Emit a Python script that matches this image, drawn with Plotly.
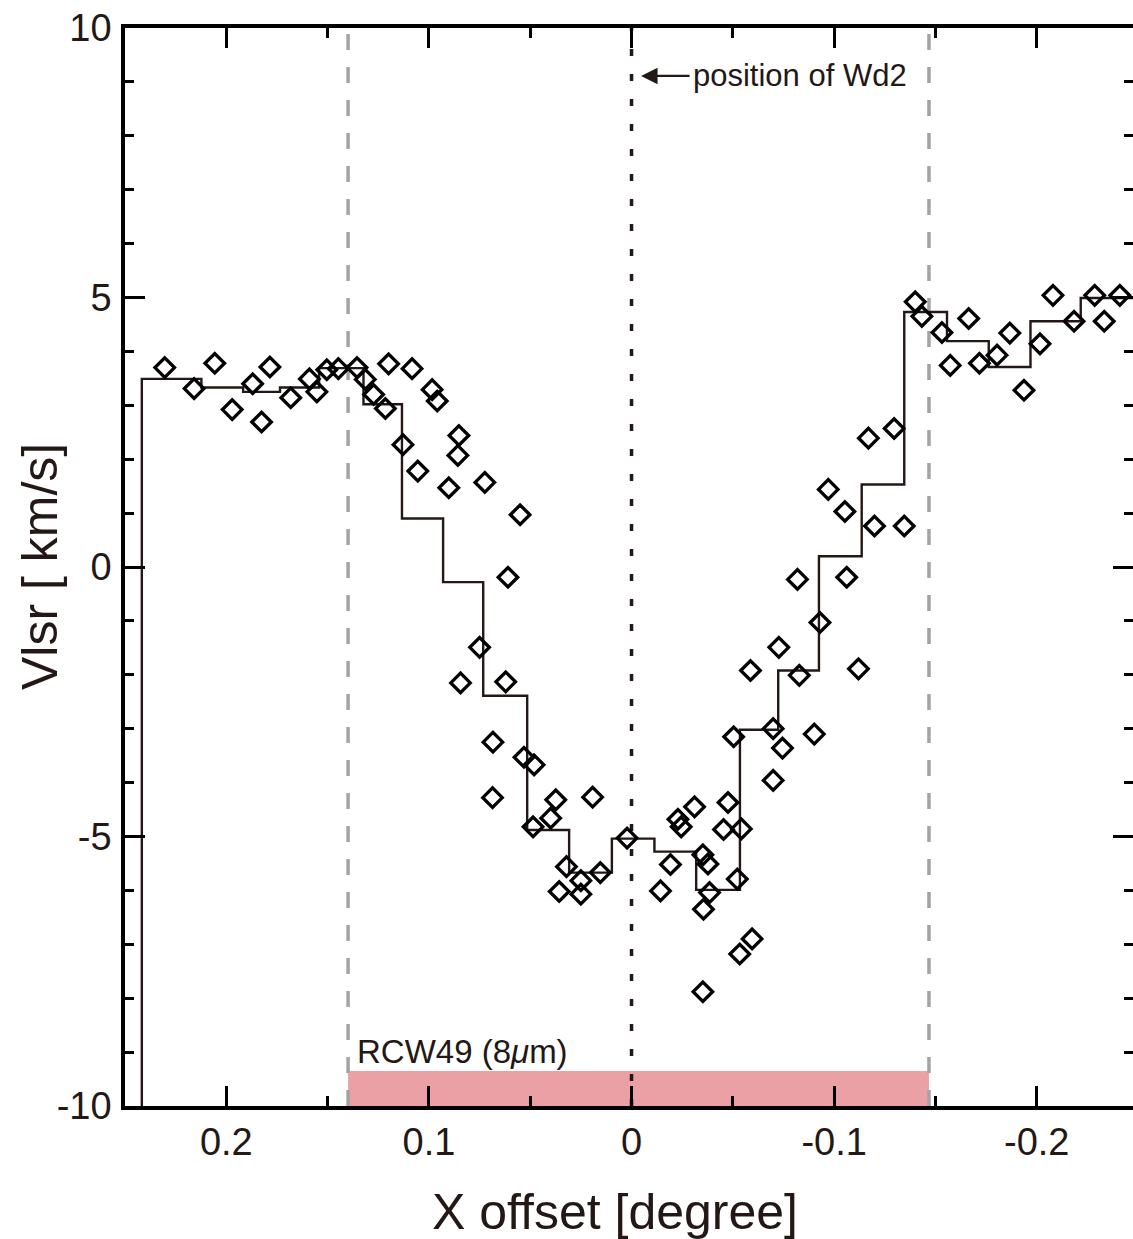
import plotly.graph_objects as go

# ---- data ----
pts_x = [0.2304, 0.2159, 0.2057, 0.1971, 0.1870, 0.1826, 0.1785, 0.1682, 0.1590, 0.1553,
         0.1504, 0.1447, 0.1355, 0.1314, 0.1273, 0.1215, 0.1199, 0.1083, 0.0984, 0.0959,
         0.1128, 0.1055, 0.0852, 0.0857, 0.0902, 0.0724, 0.0550, 0.0610, 0.0750, 0.0844,
         0.0621, 0.0684, 0.0531, 0.0481, 0.0686, 0.0374, 0.0399, 0.0486, 0.0192, 0.0321,
         0.0250, 0.0357, 0.0250, 0.0154, 0.0022, -0.0229, -0.0245, -0.0311, -0.0476, -0.0504,
         -0.0699, -0.0745, -0.0699, -0.0454, -0.0542, -0.0352, -0.0377, -0.0192, -0.0143, -0.0385,
         -0.0522, -0.0355, -0.0595, -0.0534, -0.0352, -0.1296, -0.1169, -0.0971, -0.1053, -0.1199,
         -0.1346, -0.0819, -0.1062, -0.0930, -0.0727, -0.0587, -0.0828, -0.1120, -0.0902, -0.1400,
         -0.1433, -0.1532, -0.1664, -0.1573, -0.1717, -0.1804, -0.1867, -0.1937, -0.2016, -0.2080,
         -0.2184, -0.2286, -0.2333, -0.2410]
pts_v = [3.70, 3.31, 3.78, 2.92, 3.40, 2.69, 3.71, 3.14, 3.49, 3.25,
         3.66, 3.68, 3.70, 3.48, 3.20, 2.94, 3.77, 3.68, 3.29, 3.08,
         2.27, 1.78, 2.44, 2.07, 1.47, 1.57, 0.97, -0.19, -1.49, -2.15,
         -2.13, -3.25, -3.53, -3.67, -4.28, -4.32, -4.66, -4.82, -4.27, -5.56,
         -5.82, -6.02, -6.07, -5.67, -5.03, -4.68, -4.82, -4.45, -4.37, -3.15,
         -3.00, -3.36, -3.96, -4.87, -4.86, -5.34, -5.51, -5.52, -6.01, -6.04,
         -5.79, -6.35, -6.90, -7.18, -7.88, 2.57, 2.39, 1.44, 1.03, 0.76,
         0.76, -0.23, -0.19, -1.03, -1.49, -1.92, -2.01, -1.89, -3.10, 4.92,
         4.65, 4.35, 4.61, 3.74, 3.78, 3.93, 4.34, 3.28, 4.14, 5.04,
         4.56, 5.04, 4.56, 5.04]

step_edges = [0.2417, 0.2123, 0.1917, 0.1735, 0.1542, 0.1323, 0.1133, 0.0930, 0.0732, 0.0515,
              0.0308, 0.0097, -0.0113, -0.0319, -0.0535, -0.0724, -0.0925, -0.1136, -0.1346,
              -0.1557, -0.1763, -0.1969, -0.2217, -0.25]
step_levels = [3.49, 3.33, 3.25, 3.33, 3.69, 3.02, 0.90, -0.28, -2.39, -4.88,
               -5.67, -5.04, -5.28, -5.99, -3.02, -1.92, 0.20, 1.53, 4.73, 4.19,
               3.71, 4.56, 4.99]

x_ticks = [0.2, 0.1, 0, -0.1, -0.2]
x_labels = ["0.2", "0.1", "0", "-0.1", "-0.2"]
y_ticks = [-10, -5, 0, 5, 10]
y_labels = ["-10", "-5", "0", "5", "10"]

rcw_x0, rcw_x1 = 0.1399, -0.1468
rcw_top = -9.35
wd2_x = 0.0
x_range = [0.25, -0.2475]
y_range = [-10, 10]

INK = "#231815"
FONT = "Liberation Sans, Arial, Helvetica, sans-serif"

# step line path
sx = [step_edges[0]] + step_edges
sy = [y_range[0]] + step_levels + [step_levels[-1]]

fig = go.Figure()
fig.add_trace(go.Scatter(x=sx, y=sy, mode="lines", line=dict(color=INK, width=2.4, shape="hv"),
                         hoverinfo="skip", showlegend=False))
fig.add_trace(go.Scatter(x=pts_x, y=pts_v, mode="markers",
                         marker=dict(symbol="diamond-open", size=15, color="#000000",
                                     line=dict(width=3.3, color="#000000")),
                         showlegend=False))
# invisible trace to activate right-side tick axis
fig.add_trace(go.Scatter(x=sx, y=sy, yaxis="y2", mode="lines", line=dict(width=0),
                         opacity=0, hoverinfo="skip", showlegend=False))

# RCW49 band and reference lines
fig.add_shape(type="rect", xref="x", yref="y", x0=rcw_x0, x1=rcw_x1, y0=y_range[0], y1=rcw_top,
              fillcolor="#eba0a6", line=dict(width=0), layer="below")
for xv in (rcw_x0, rcw_x1):
    fig.add_shape(type="line", xref="x", yref="y", x0=xv, x1=xv, y0=y_range[0], y1=y_range[1],
                  line=dict(color="#a3a3a3", width=3.5, dash="16px,17px"), layer="below")
fig.add_shape(type="line", xref="x", yref="y", x0=wd2_x, x1=wd2_x, y0=y_range[0], y1=y_range[1],
              line=dict(color=INK, width=3.5, dash="7px,18px"), layer="below")

# annotations
fig.add_annotation(x=-0.0047, y=9.11, xref="x", yref="y", text="", showarrow=True,
                   ax=50, ay=0, arrowhead=2, arrowsize=1.5, arrowwidth=2.2,
                   arrowcolor=INK, standoff=0)
fig.add_annotation(x=-0.0295, y=9.11, xref="x", yref="y", text="position of Wd2",
                   showarrow=False, xanchor="left", yanchor="middle",
                   font=dict(family=FONT, size=31, color=INK))
fig.add_annotation(x=0.1365, y=-8.98, xref="x", yref="y", text="RCW49 (8<i>μ</i>m)",
                   showarrow=False, xanchor="left", yanchor="middle",
                   font=dict(family=FONT, size=33, color=INK))
fig.add_annotation(x=0.486, y=-0.0983, xref="paper", yref="paper", text="X offset [degree]",
                   showarrow=False, xanchor="center", yanchor="middle",
                   font=dict(family=FONT, size=50, color=INK))
fig.add_annotation(x=-0.0843, y=0.5, xref="paper", yref="paper", text="Vlsr [ km/s]",
                   textangle=-90, showarrow=False, xanchor="center", yanchor="middle",
                   font=dict(family=FONT, size=50, color=INK))

axis_common = dict(showgrid=False, zeroline=False, ticks="inside", ticklen=20, tickwidth=3,
                   tickcolor="#000000")

fig.update_layout(
    width=1133, height=1239,
    margin=dict(l=125, r=0, t=28, b=133),
    paper_bgcolor="white", plot_bgcolor="white",
    font=dict(family=FONT, color=INK),
    xaxis=dict(range=x_range, tickmode="array", tickvals=x_ticks, ticktext=x_labels,
               showline=True, linewidth=3.5, linecolor="#000000", mirror="ticks",
               tickfont=dict(size=38, color=INK), ticklabelstandoff=0,
               minor=dict(dtick=0.05, tick0=0, ticks="inside", ticklen=10, tickwidth=3,
                          tickcolor="#000000"),
               **axis_common),
    yaxis=dict(range=y_range, tickmode="array", tickvals=y_ticks, ticktext=y_labels,
               showline=True, linewidth=3.5, linecolor="#000000",
               tickfont=dict(size=38, color=INK), ticklabelstandoff=2,
               minor=dict(dtick=1, tick0=0, ticks="inside", ticklen=9, tickwidth=3,
                          tickcolor="#000000"),
               **axis_common),
    yaxis2=dict(range=y_range, overlaying="y", side="right", tickmode="array",
                tickvals=y_ticks, showticklabels=False, showline=False,
                minor=dict(dtick=1, tick0=0, ticks="inside", ticklen=9, tickwidth=3,
                           tickcolor="#000000"),
                **axis_common),
)

fig.write_html("out.html")
